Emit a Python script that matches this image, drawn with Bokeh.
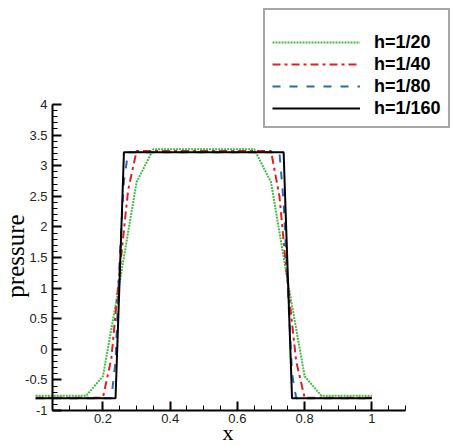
import math
from bokeh.plotting import figure
from bokeh.models import FixedTicker, Legend, LegendItem, Range1d, Label
from bokeh.embed import file_html
from bokeh.resources import INLINE

# ---- data ----
g_x = [0.0, 0.15, 0.2, 0.25, 0.3, 0.35, 0.65, 0.7, 0.75, 0.8, 0.85, 1.0]
g_y = [-0.76, -0.76, -0.44, 1.1, 2.73, 3.27, 3.27, 2.73, 1.1, -0.44, -0.76, -0.76]

r_x = [0.0, 0.2, 0.225, 0.25, 0.275, 0.3, 0.7, 0.725, 0.75, 0.775, 0.8, 1.0]
r_y = [-0.79, -0.79, -0.15, 1.3, 2.6, 3.24, 3.24, 2.5, 1.05, -0.2, -0.79, -0.79]

b_x = [0.0, 0.225, 0.2375, 0.25, 0.2625, 0.275, 0.725, 0.7375, 0.75, 0.7625, 0.775, 1.0]
b_y = [-0.8, -0.8, -0.2, 1.5, 2.75, 3.22, 3.22, 2.4, 1.0, -0.4, -0.8, -0.8]

k_x = [0.0, 0.2375, 0.24375, 0.25, 0.25625, 0.2625, 0.7375, 0.74375, 0.75, 0.75625, 0.7625, 1.0]
k_y = [-0.8, -0.8, 0.2, 1.2, 2.2, 3.22, 3.22, 2.2, 1.2, 0.2, -0.8, -0.8]

series_labels = ["h=1/20", "h=1/40", "h=1/80", "h=1/160"]

x_ticks = [0.2, 0.4, 0.6, 0.8, 1.0]
x_tick_labels = ["0.2", "0.4", "0.6", "0.8", "1"]
y_ticks = [-1.0, -0.5, 0.0, 0.5, 1.0, 1.5, 2.0, 2.5, 3.0, 3.5, 4.0]
y_tick_labels = ["-1", "-0.5", "0", "0.5", "1", "1.5", "2", "2.5", "3", "3.5", "4"]

x_minor = [round(0.05 * i, 2) for i in range(1, 23)]
y_minor = [round(-1 + 0.1 * i, 1) for i in range(51)]

SANS = "Liberation Sans"
SERIF = "Liberation Serif"

W, H = 453, 446
# axes span x 0.05..1.1 and y -1..4; the frame covers the whole figure so the
# legend box (outside the axes, top right) is not clipped
X_AX = (0.05, 1.1)
Y_AX = (-1.0, 4.0)
AX_LEFT_PX, AX_BOTTOM_PX = 52, 410
px_per_x = 353 / 1.05
px_per_y = 306 / 5.0
x_start = X_AX[0] - AX_LEFT_PX / px_per_x
x_end = X_AX[0] + (W - AX_LEFT_PX) / px_per_x
y_start = Y_AX[0] - (H - AX_BOTTOM_PX) / px_per_y
y_end = Y_AX[0] + AX_BOTTOM_PX / px_per_y

p = figure(width=W, height=H, output_backend="svg", toolbar_location=None,
           x_range=Range1d(x_start, x_end), y_range=Range1d(y_start, y_end),
           min_border_left=0, min_border_right=0, min_border_top=0, min_border_bottom=0)
p.grid.visible = False
p.outline_line_color = None
p.background_fill_color = "white"

gl = p.line(g_x, g_y, line_color="#44bb44", line_width=2, line_dash="2 1")
rl = p.line(r_x, r_y, line_color="#dd2222", line_width=2, line_dash="8 4 3 4")
bl = p.line(b_x, b_y, line_color="#2a6ab8", line_width=2, line_dash="8 9")
kl = p.line(k_x, k_y, line_color="black", line_width=2)

for ax in (p.xaxis[0], p.yaxis[0]):
    ax.axis_line_width = 2
    ax.axis_line_color = "black"
    ax.major_tick_in = 9
    ax.major_tick_out = 0
    ax.minor_tick_in = 5
    ax.minor_tick_out = 0
    ax.major_tick_line_width = 2
    ax.minor_tick_line_width = 1
    ax.major_tick_line_color = "black"
    ax.minor_tick_line_color = "black"
    ax.major_label_text_font = SANS
    ax.major_label_text_font_size = "13px"
    ax.major_label_text_color = "#222222"

p.xaxis[0].fixed_location = Y_AX[0]
p.yaxis[0].fixed_location = X_AX[0]
p.xaxis[0].bounds = X_AX
p.yaxis[0].bounds = Y_AX
p.xaxis[0].major_label_standoff = 3
p.yaxis[0].major_label_standoff = 5
p.xaxis[0].ticker = FixedTicker(ticks=x_ticks, minor_ticks=x_minor)
p.xaxis[0].major_label_overrides = dict(zip(x_ticks, x_tick_labels))
p.yaxis[0].ticker = FixedTicker(ticks=y_ticks, minor_ticks=y_minor)
p.yaxis[0].major_label_overrides = dict(zip(y_ticks, y_tick_labels))

# axis titles (placed in screen pixels so they centre on the axes, not the frame)
p.add_layout(Label(x=227.5, y=14, x_units="screen", y_units="screen", text="x",
                   text_align="center", text_baseline="alphabetic",
                   text_font=SERIF, text_font_size="22px", text_color="black"))
p.add_layout(Label(x=15, y=H - 255.5, x_units="screen", y_units="screen", text="pressure",
                   angle=math.pi / 2, text_align="center", text_baseline="alphabetic",
                   text_font=SERIF, text_font_size="25px", text_color="black"))

legend = Legend(items=[LegendItem(label=series_labels[0], renderers=[gl]),
                       LegendItem(label=series_labels[1], renderers=[rl]),
                       LegendItem(label=series_labels[2], renderers=[bl]),
                       LegendItem(label=series_labels[3], renderers=[kl])],
                location=(263, H - 128), orientation="vertical",
                title=" ", title_text_font_size="12px", title_standoff=0,
                padding=7, spacing=0, glyph_width=88, glyph_height=22,
                label_height=22, label_standoff=14,
                label_text_font=SANS, label_text_font_size="18px",
                label_text_font_style="bold", label_text_color="black",
                border_line_color="#4d4d4d", border_line_width=2,
                background_fill_color="white", background_fill_alpha=1.0,
                margin=0)
p.add_layout(legend)

open("out.html", "w").write(file_html(p, INLINE))
